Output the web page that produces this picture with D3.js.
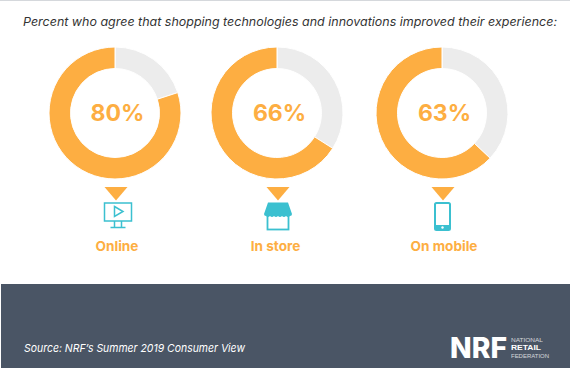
<!DOCTYPE html>
<html>
<head>
<meta charset="utf-8">
<script src="https://cdnjs.cloudflare.com/ajax/libs/d3/7.8.5/d3.min.js"></script>
<style>
html, body { margin: 0; padding: 0; background: #fff; }
svg { display: block; }
text { font-family: Inter, "Open Sans", sans-serif; }
</style>
</head>
<body>
<div id="chart"></div>
<script>
var categories = ["Online", "In store", "On mobile"];
var agree = [80, 66, 63];
var icons = ["screen", "shop", "phone"];
var title = "Percent who agree that shopping technologies and innovations improved their experience:";
var source = "Source: NRF\u2019s Summer 2019 Consumer View";

var WIDTH = 570, HEIGHT = 368;
var ORANGE = "#fdae42", GREY = "#ececec", TEAL = "#3bc0d0", SLATE = "#4a5565";

var svg = d3.select("#chart").append("svg")
	.attr("width", WIDTH)
	.attr("height", HEIGHT);

svg.append("rect").attr("width", WIDTH).attr("height", 1).attr("fill", "#d5d8dc");

svg.append("text")
	.attr("x", 23).attr("y", 25.5)
	.attr("font-size", 12)
	.attr("font-style", "italic")
	.attr("fill", "#333")
	.attr("textLength", 534)
	.attr("lengthAdjust", "spacingAndGlyphs")
	.text(title);

var x = d3.scaleOrdinal().domain(categories).range([115, 277, 442]);
var pie = d3.pie().sort(null).value(function(d){ return d; });
var arc = d3.arc().innerRadius(44.5).outerRadius(66);

var group = svg.selectAll(".donut")
	.data(categories)
	.enter()
	.append("g")
	.attr("class", "donut")
	.attr("transform", function(d){ return "translate(" + x(d) + ",113)"; });

// grey remainder first clockwise from the top, orange fills the rest
group.selectAll("path.slice")
	.data(function(d, i){ return pie([100 - agree[i], agree[i]]); })
	.enter()
	.append("path")
	.attr("class", "slice")
	.attr("d", arc)
	.attr("fill", function(d, i){ return i == 0 ? GREY : ORANGE; })
	.attr("stroke", "#fff")
	.attr("stroke-width", 1);

group.append("text")
	.attr("text-anchor", "middle")
	.attr("x", 2.5)
	.attr("y", 7.5)
	.attr("font-size", 23)
	.attr("font-weight", 700)
	.attr("fill", ORANGE)
	.text(function(d, i){ return agree[i] + "%"; });

group.append("path")
	.attr("d", "M-10.5,74 L12.5,74 L1,87.5 Z")
	.attr("fill", ORANGE);

var labelShift = [2, -1.5, 2];
group.append("text")
	.attr("text-anchor", "middle")
	.attr("x", function(d, i){ return labelShift[i]; })
	.attr("y", 138)
	.attr("font-size", 13.6)
	.attr("font-weight", 700)
	.attr("fill", ORANGE)
	.text(function(d){ return d; });

var iconShift = [3, 1, 0.5];
group.append("g")
	.attr("transform", function(d, i){ return "translate(" + iconShift[i] + ",90)"; })
	.each(function(d, i){
		drawIcon(d3.select(this), icons[i]);
	});

function drawIcon(g, name){
	if(name == "screen"){
		g.append("rect").attr("x", -13.5).attr("y", 0).attr("width", 27).attr("height", 18)
			.attr("fill", "none").attr("stroke", TEAL).attr("stroke-width", 1.5);
		g.append("path").attr("d", "M-3.5,3.5 L5,8.5 L-3.5,13.5 Z")
			.attr("fill", "none").attr("stroke", TEAL).attr("stroke-width", 1.5);
		g.append("path").attr("d", "M-3.5,18 V24 M3.5,18 V24 M-7.5,24.5 H7.5")
			.attr("fill", "none").attr("stroke", TEAL).attr("stroke-width", 1.5);
	}else if(name == "shop"){
		g.append("rect").attr("x", -10.5).attr("y", 12).attr("width", 21).attr("height", 14.5)
			.attr("fill", "#fff").attr("stroke", TEAL).attr("stroke-width", 1.8);
		g.append("path").attr("d", "M-10,-0.5 H10 L14,11 Q14,13 12,13 Q10,15 8,13 Q6,15 4,13 Q2,15 0,13 Q-2,15 -4,13 Q-6,15 -8,13 Q-10,15 -12,13 Q-14,13 -14,11 Z")
			.attr("fill", TEAL);
	}else{
		g.append("rect").attr("x", -7.5).attr("y", 0).attr("width", 15).attr("height", 27).attr("rx", 1.5)
			.attr("fill", "#fff").attr("stroke", TEAL).attr("stroke-width", 2);
		g.append("rect").attr("x", -7.5).attr("y", 22).attr("width", 15).attr("height", 5)
			.attr("fill", TEAL);
		g.append("circle").attr("cx", 0).attr("cy", 24.5).attr("r", 1.2).attr("fill", "#fff");
	}
}

// footer band
svg.append("rect")
	.attr("x", 1).attr("y", 284)
	.attr("width", WIDTH - 1).attr("height", HEIGHT - 284)
	.attr("fill", SLATE);

svg.append("text")
	.attr("x", 24).attr("y", 351.5)
	.attr("font-size", 11)
	.attr("font-style", "italic")
	.attr("fill", "#fff")
	.attr("textLength", 221)
	.attr("lengthAdjust", "spacingAndGlyphs")
	.text(source);

// logo
svg.append("text")
	.attr("x", 450).attr("y", 357.5)
	.attr("font-size", 28)
	.attr("font-weight", 800)
	.attr("fill", "#fff")
	.attr("textLength", 57)
	.attr("lengthAdjust", "spacingAndGlyphs")
	.text("NRF");

var logoLines = [
	{t: "NATIONAL", y: 342, w: 400, s: 5.5, o: .75, l: 32},
	{t: "RETAIL", y: 350, w: 700, s: 7, o: 1, l: 30},
	{t: "FEDERATION", y: 358, w: 400, s: 5.5, o: .75, l: 38}
];
svg.selectAll(".logoLine")
	.data(logoLines)
	.enter()
	.append("text")
	.attr("class", "logoLine")
	.attr("x", 511)
	.attr("y", function(d){ return d.y; })
	.style("font-family", "'Liberation Sans', sans-serif")
	.attr("font-size", function(d){ return d.s; })
	.attr("font-weight", function(d){ return d.w; })
	.attr("fill", "#fff")
	.attr("opacity", function(d){ return d.o; })
	.attr("textLength", function(d){ return d.l; })
	.attr("lengthAdjust", "spacingAndGlyphs")
	.text(function(d){ return d.t; });
</script>
</body>
</html>
